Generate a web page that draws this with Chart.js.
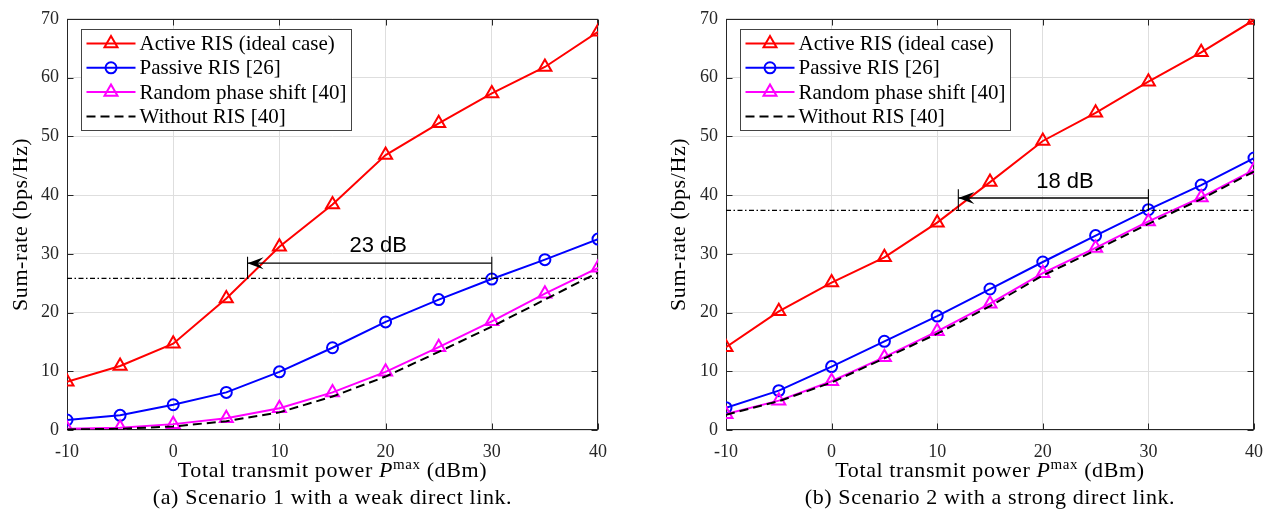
<!DOCTYPE html>
<html>
<head>
<meta charset="utf-8">
<script src="https://cdn.jsdelivr.net/npm/chart.js@4.4.1/dist/chart.umd.min.js"></script>
<style>
  body { margin: 0; background: #fff; }
  #wrap { position: relative; width: 1274px; height: 514px; }
  .panel { position: absolute; top: 0; width: 637px; height: 514px; }
  #panel-a { left: 0; }
  #panel-b { left: 637px; }
</style>
</head>
<body>
<div id="wrap">
  <div class="panel" id="panel-a"><canvas id="chart-a"></canvas></div>
  <div class="panel" id="panel-b"><canvas id="chart-b"></canvas></div>
</div>
<script>
const powerDbm = [-10, -5, 0, 5, 10, 15, 20, 25, 30, 35, 40];
const xTicks = [-10, 0, 10, 20, 30, 40];
const yTicks = [0, 10, 20, 30, 40, 50, 60, 70];

const seriesNames = ['Active RIS (ideal case)', 'Passive RIS [26]', 'Random phase shift [40]', 'Without RIS [40]'];

// scenario 1: weak direct link
const activeA  = [8.2, 10.9, 14.7, 22.4, 31.2, 38.4, 46.8, 52.2, 57.3, 61.8, 67.8];
const passiveA = [1.7, 2.5, 4.3, 6.4, 9.9, 14.0, 18.4, 22.2, 25.7, 29.0, 32.5];
const randomA  = [0.2, 0.4, 1.0, 2.0, 3.7, 6.4, 9.9, 14.1, 18.5, 23.2, 27.6];
const noRisA   = [0.1, 0.2, 0.6, 1.5, 3.0, 5.7, 9.1, 13.3, 17.6, 22.2, 26.8];

// scenario 2: strong direct link
const activeB  = [14.1, 20.2, 25.1, 29.4, 35.3, 42.2, 49.2, 54.0, 59.3, 64.3, 69.8];
const passiveB = [3.8, 6.7, 10.8, 15.1, 19.4, 24.0, 28.6, 33.1, 37.5, 41.7, 46.3];
const randomB  = [2.7, 5.0, 8.3, 12.4, 16.8, 21.5, 26.7, 31.0, 35.5, 39.6, 44.3];
const noRisB   = [2.6, 4.9, 8.1, 12.2, 16.4, 21.1, 26.3, 30.6, 35.1, 39.3, 44.0];

// power gap needed by passive RIS to reach the same sum-rate
const gapA = { rate: 25.8, ref: 30, db: 23, arrowRate: 28.4, barTop: 29.5, labelAt: [19.3, 31.4] };
const gapB = { rate: 37.4, ref: 30, db: 18, arrowRate: 39.5, barTop: 41.0, labelAt: [22.1, 42.2] };

const SERIF = "'Liberation Serif', 'Times New Roman', serif";
const SANS = "'Liberation Sans', Arial, sans-serif";
const AXIS_COLOR = '#262626';

const toPoints = (vals) => powerDbm.map((x, i) => ({ x: x, y: vals[i] }));

function series(label, vals, color, style, radius, order, dash) {
  return {
    label: label,
    data: toPoints(vals),
    borderColor: color,
    backgroundColor: color,
    borderWidth: 2,
    borderDash: dash || [],
    pointStyle: style,
    pointRadius: radius,
    pointBorderWidth: 2,
    pointBorderColor: color,
    pointBackgroundColor: 'rgba(0,0,0,0)',
    tension: 0,
    order: order
  };
}

function guide(points, dash, width) {
  return {
    data: points,
    borderColor: '#000',
    borderWidth: width,
    borderDash: dash,
    pointRadius: 0,
    tension: 0,
    order: 0,
    guide: true
  };
}

function gapDatasets(g) {
  const to = g.ref - g.db;
  return [
    guide([{ x: -10, y: g.rate }, { x: 40, y: g.rate }], [5, 2.5, 1.5, 2.5], 1.3),
    guide([{ x: g.ref, y: g.arrowRate }, { x: to, y: g.arrowRate }], [], 1.4),
    guide([{ x: to, y: g.rate }, { x: to, y: g.barTop }], [], 1.1),
    guide([{ x: g.ref, y: g.rate }, { x: g.ref, y: g.barTop }], [], 1.1)
  ];
}

function buildDatasets(active, passive, random, noRis, gap) {
  return [
    series(seriesNames[0], active, '#ff0000', 'triangle', 7.5, 4),
    series(seriesNames[1], passive, '#0000ff', 'circle', 5.5, 3),
    series(seriesNames[2], random, '#ff00ff', 'triangle', 7.5, 2),
    series(seriesNames[3], noRis, '#000000', false, 0, 1, [9, 5])
  ].concat(gapDatasets(gap));
}

function drawMarker(ctx, style, x, y, r) {
  ctx.beginPath();
  if (style === 'circle') {
    ctx.arc(x, y, r, 0, Math.PI * 2);
  } else {
    ctx.moveTo(x, y - r);
    ctx.lineTo(x + Math.sin(2 * Math.PI / 3) * r, y + r / 2);
    ctx.lineTo(x - Math.sin(2 * Math.PI / 3) * r, y + r / 2);
    ctx.closePath();
  }
  ctx.stroke();
}

// matlab-like axes box, inward ticks, legend, arrow and labels
const figurePlugin = {
  id: 'figure',
  beforeDatasetsDraw(chart, args, opts) {
    const { ctx, chartArea: a, scales: { x, y } } = chart;
    ctx.save();
    ctx.strokeStyle = AXIS_COLOR;
    ctx.lineWidth = 1;
    const L = Math.round(a.left) + 0.5, R = Math.round(a.right) - 0.5;
    const T = Math.round(a.top) + 0.5, B = Math.round(a.bottom) - 0.5;
    ctx.strokeRect(L, T, R - L, B - T);
    ctx.beginPath();
    xTicks.forEach(v => {
      const px = Math.round(x.getPixelForValue(v)) + 0.5;
      ctx.moveTo(px, B); ctx.lineTo(px, B - 6);
      ctx.moveTo(px, T); ctx.lineTo(px, T + 6);
    });
    yTicks.forEach(v => {
      const py = Math.round(y.getPixelForValue(v)) + 0.5;
      ctx.moveTo(L, py); ctx.lineTo(L + 6, py);
      ctx.moveTo(R, py); ctx.lineTo(R - 6, py);
    });
    ctx.stroke();
    ctx.restore();
  },
  afterDatasetsDraw(chart, args, opts) {
    const { ctx, chartArea: a, scales: { x, y } } = chart;
    const g = opts.gap;
    ctx.save();

    // arrow head at the low-power end
    const tx = x.getPixelForValue(g.ref - g.db), ty = y.getPixelForValue(g.arrowRate);
    ctx.fillStyle = '#000';
    ctx.beginPath();
    ctx.moveTo(tx, ty);
    ctx.lineTo(tx + 16, ty - 6);
    ctx.lineTo(tx + 10, ty);
    ctx.lineTo(tx + 16, ty + 6);
    ctx.closePath();
    ctx.fill();

    ctx.font = '22px ' + SANS;
    ctx.textAlign = 'center';
    ctx.textBaseline = 'middle';
    ctx.fillText(g.db + ' dB', x.getPixelForValue(g.labelAt[0]), y.getPixelForValue(g.labelAt[1]));

    // legend box inside the plot, top-left
    const bx = Math.round(a.left + 14) + 0.5, by = Math.round(a.top + 10) + 0.5;
    const bw = 270, bh = 101;
    ctx.fillStyle = '#fff';
    ctx.fillRect(bx, by, bw, bh);
    ctx.strokeStyle = '#444';
    ctx.lineWidth = 1;
    ctx.strokeRect(bx, by, bw, bh);
    ctx.font = '21px ' + SERIF;
    ctx.textAlign = 'left';
    ctx.textBaseline = 'middle';
    chart.data.datasets.filter(d => !d.guide).forEach((d, i) => {
      const ry = by + 14 + i * 24.3;
      ctx.strokeStyle = d.borderColor;
      ctx.lineWidth = 2;
      ctx.setLineDash(d.borderDash);
      ctx.beginPath();
      ctx.moveTo(bx + 5, ry);
      ctx.lineTo(bx + 54, ry);
      ctx.stroke();
      ctx.setLineDash([]);
      if (d.pointStyle) drawMarker(ctx, d.pointStyle, bx + 29.5, ry, d.pointRadius);
      ctx.fillStyle = '#000';
      ctx.fillText(d.label, bx + 58, ry + 1);
    });
    ctx.restore();
  },
  afterDraw(chart, args, opts) {
    const { ctx, chartArea: a } = chart;
    const cx = (a.left + a.right) / 2;
    ctx.save();
    ctx.fillStyle = '#000';
    ctx.textBaseline = 'alphabetic';
    ctx.letterSpacing = '0.6px';

    // x title with superscript
    const parts = [
      { t: 'Total transmit power ', f: '22px ' + SERIF, dy: 0 },
      { t: 'P', f: 'italic 22px ' + SERIF, dy: 0 },
      { t: 'max', f: '15px ' + SERIF, dy: -8 },
      { t: ' (dBm)', f: '22px ' + SERIF, dy: 0 }
    ];
    let total = 0;
    parts.forEach(p => { ctx.font = p.f; p.w = ctx.measureText(p.t).width; total += p.w; });
    let px = cx - total / 2;
    ctx.textAlign = 'left';
    parts.forEach(p => { ctx.font = p.f; ctx.fillText(p.t, px, 477 + p.dy); px += p.w; });

    ctx.textAlign = 'center';
    ctx.font = '22px ' + SERIF;
    ctx.fillText(opts.caption, cx, 504);

    ctx.translate(opts.yTitleX, (a.top + a.bottom) / 2);
    ctx.rotate(-Math.PI / 2);
    ctx.textBaseline = 'middle';
    ctx.fillText('Sum-rate (bps/Hz)', 0, 0);
    ctx.restore();
  }
};

function makeChart(canvasId, datasets, gap, caption, padRight, axisWidth, yTitleX) {
  const tickFont = { family: SERIF, size: 18 };
  return new Chart(document.getElementById(canvasId), {
    type: 'line',
    data: { datasets: datasets },
    options: {
      responsive: true,
      maintainAspectRatio: false,
      devicePixelRatio: 1,
      animation: false,
      layout: { padding: { left: 0, right: padRight, top: 12, bottom: 0 } },
      plugins: {
        legend: { display: false },
        tooltip: { enabled: false },
        figure: { gap: gap, caption: caption, yTitleX: yTitleX }
      },
      scales: {
        x: {
          type: 'linear',
          min: -10,
          max: 40,
          afterBuildTicks: s => { s.ticks = xTicks.map(v => ({ value: v })); },
          afterFit: s => { s.height = 84; },
          grid: { color: '#dedede', drawTicks: false },
          border: { display: false },
          ticks: { font: tickFont, color: AXIS_COLOR, padding: 11, maxRotation: 0 }
        },
        y: {
          min: 0,
          max: 70,
          afterBuildTicks: s => { s.ticks = yTicks.map(v => ({ value: v })); },
          afterFit: s => { s.width = axisWidth; },
          grid: { color: '#dedede', drawTicks: false },
          border: { display: false },
          ticks: { font: tickFont, color: AXIS_COLOR, padding: 8 }
        }
      }
    },
    plugins: [figurePlugin]
  });
}

makeChart('chart-a', buildDatasets(activeA, passiveA, randomA, noRisA, gapA),
  gapA, '(a) Scenario 1 with a weak direct link.', 39, 67, 21);
makeChart('chart-b', buildDatasets(activeB, passiveB, randomB, noRisB, gapB),
  gapB, '(b) Scenario 2 with a strong direct link.', 17, 89, 42);
</script>
</body>
</html>
